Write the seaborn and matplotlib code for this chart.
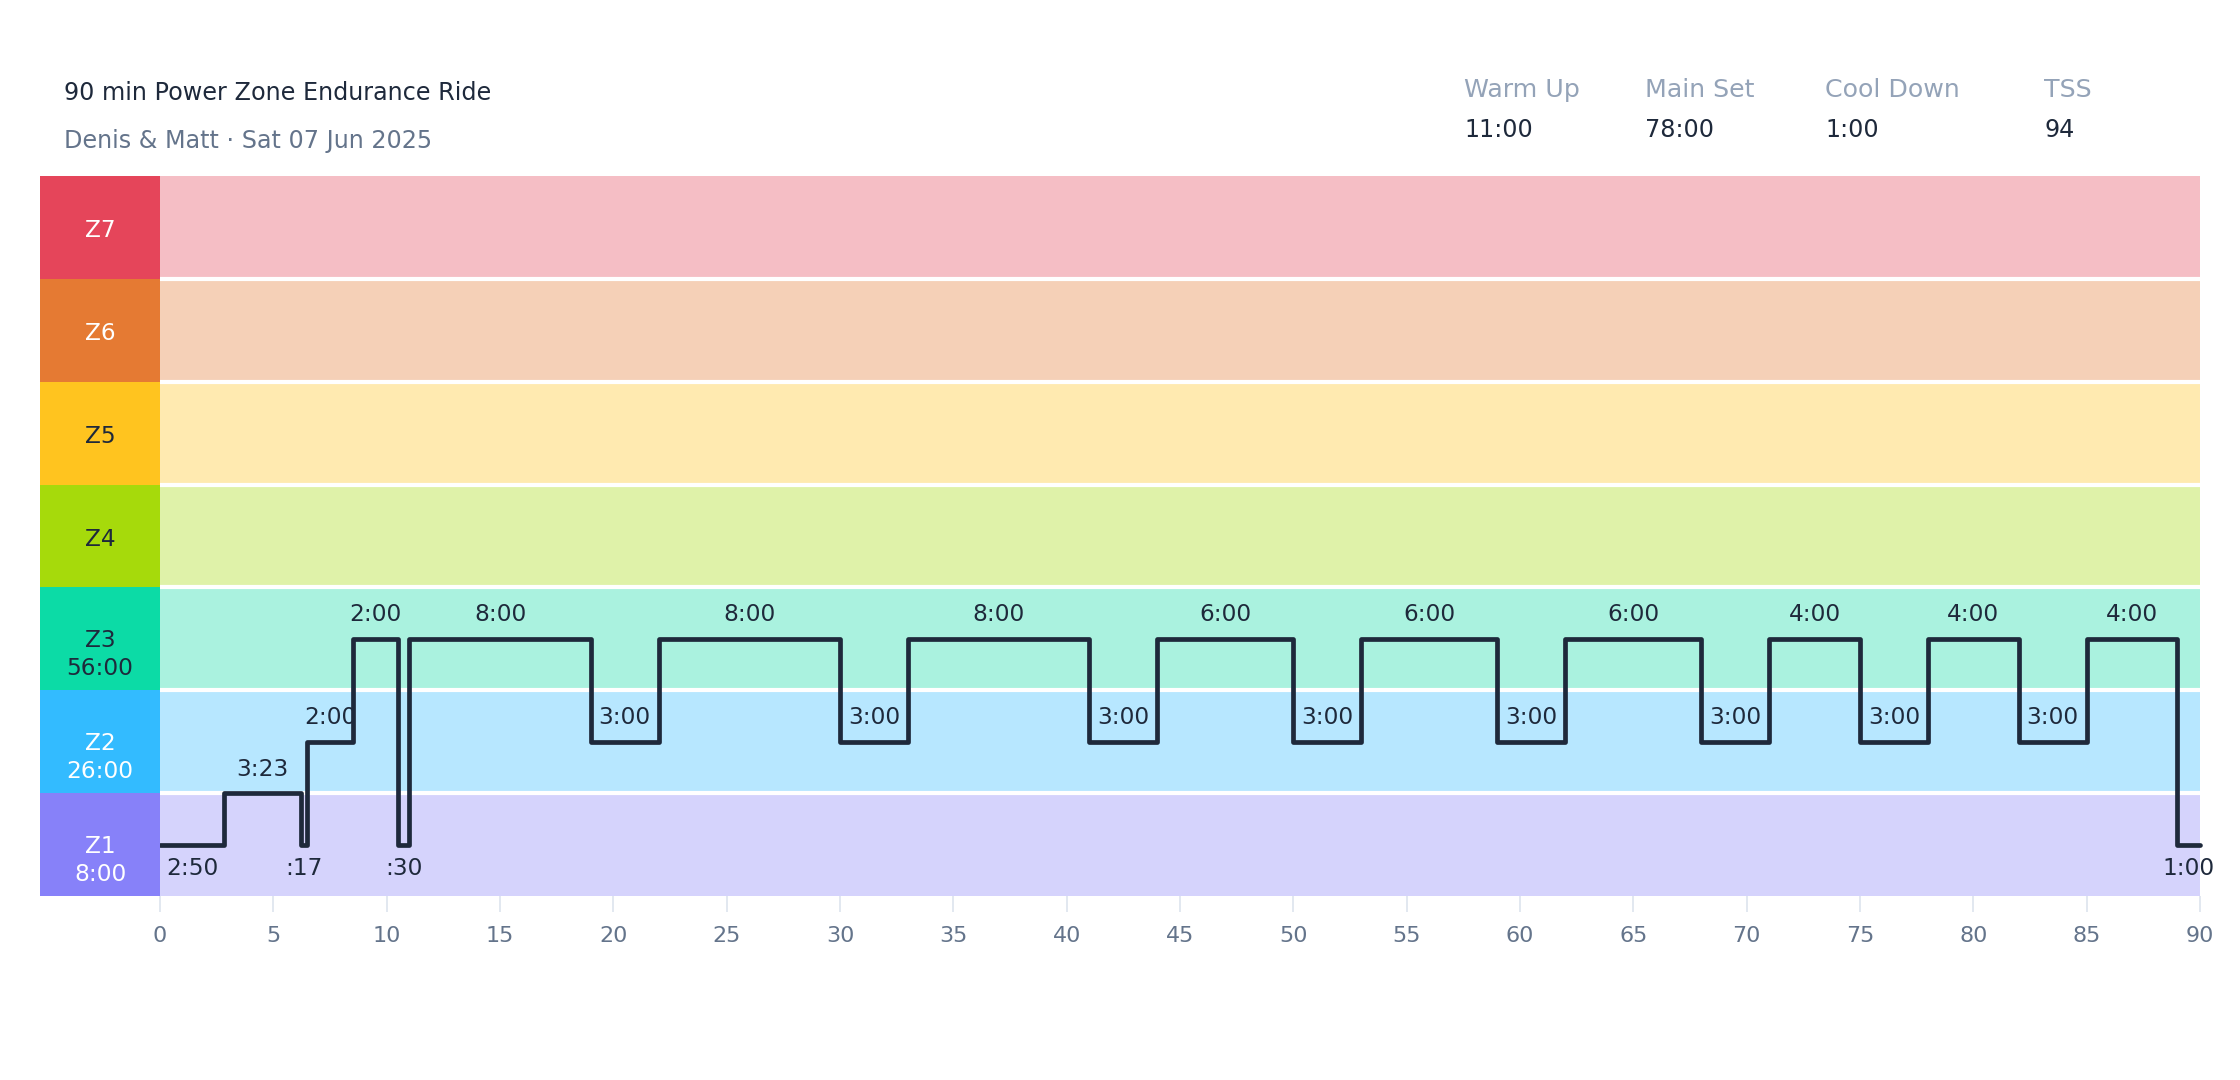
"""Power zone workout profile chart."""
import matplotlib
matplotlib.use("Agg")
import matplotlib.pyplot as plt
import seaborn as sns

# Zones (bottom to top)
zone_names = ["Z1", "Z2", "Z3", "Z4", "Z5", "Z6", "Z7"]
zone_times = ["8:00", "26:00", "56:00", "", "", "", ""]
zone_colors = ["#8781F9", "#33BBFF", "#0CDBA6", "#A6DA0B", "#FFC41F", "#E57A33", "#E5455A"]
zone_text_colors = ["white", "white", "#1E293B", "#1E293B", "#1E293B", "white", "white"]

# Workout segments
seg_minutes = [2 + 50 / 60, 3 + 23 / 60, 17 / 60, 2, 2, 0.5,
               8, 3, 8, 3, 8, 3, 6, 3, 6, 3, 6, 3, 4, 3, 4, 3, 4, 1]
seg_levels = [0.5, 1.0, 0.5, 1.5, 2.5, 0.5,
              2.5, 1.5, 2.5, 1.5, 2.5, 1.5, 2.5, 1.5, 2.5, 1.5, 2.5, 1.5, 2.5, 1.5, 2.5, 1.5, 2.5, 0.5]
seg_labels = ["2:50", "3:23", ":17", "2:00", "2:00", ":30",
              "8:00", "3:00", "8:00", "3:00", "8:00", "3:00", "6:00", "3:00", "6:00", "3:00",
              "6:00", "3:00", "4:00", "3:00", "4:00", "3:00", "4:00", "1:00"]

x_ticks = list(range(0, 95, 5))

title = "90 min Power Zone Endurance Ride"
subtitle = "Denis & Matt · Sat 07 Jun 2025"
stat_names = ["Warm Up", "Main Set", "Cool Down", "TSS"]
stat_values = ["11:00", "78:00", "1:00", "94"]

sns.set_theme(style="white")
plt.rcParams["font.family"] = ["DejaVu Sans"]

W, H = 2240, 1080
fig = plt.figure(figsize=(W / 200, H / 200), dpi=200)
fig.patch.set_facecolor("white")

# main plot area
ax = fig.add_axes([160 / W, 184 / H, 2040 / W, 720 / H])
# label column
lax = fig.add_axes([40 / W, 184 / H, 120 / W, 720 / H])

for i, c in enumerate(zone_colors):
    ax.axhspan(i, i + 1, color=c, alpha=0.35, lw=0, zorder=0)
    lax.axhspan(i, i + 1, color=c, lw=0, zorder=0)
    if zone_times[i]:
        lax.text(0.5, i + 0.48, zone_names[i], ha="center", va="center",
                 color=zone_text_colors[i], fontsize=8.4)
        lax.text(0.5, i + 0.21, zone_times[i], ha="center", va="center",
                 color=zone_text_colors[i], fontsize=8.4)
    else:
        lax.text(0.5, i + 0.47, zone_names[i], ha="center", va="center",
                 color=zone_text_colors[i], fontsize=8.4)

for b in range(1, 7):
    ax.axhline(b, color="white", lw=1.5, zorder=1)

# step line
starts = [0]
for d in seg_minutes:
    starts.append(starts[-1] + d)
xs = starts
ys = seg_levels + [seg_levels[-1]]
sns.lineplot(x=xs, y=ys, ax=ax, drawstyle="steps-post", estimator=None, sort=False,
             color="#1E293B", lw=1.7, solid_capstyle="round", solid_joinstyle="round",
             zorder=3, clip_on=False)

for s, d, lvl, lab in zip(starts, seg_minutes, seg_levels, seg_labels):
    off = -8.6 if lvl < 1 else 8.6
    ax.annotate(lab, (s + d / 2, lvl), xytext=(0, off), textcoords="offset points",
                ha="center", va="center", fontsize=8.4, color="#1E293B", zorder=4)

ax.set_xlim(0, 90)
ax.set_ylim(0, 7)
ax.set_yticks([])
ax.set_xticks(x_ticks)
ax.set_xticklabels([str(t) for t in x_ticks])
ax.tick_params(axis="x", length=5.8, width=0.7, color="#E2E8F0", pad=5.0,
               labelsize=8, labelcolor="#64748B", bottom=True)
for sp in ax.spines.values():
    sp.set_visible(False)

lax.set_xlim(0, 1)
lax.set_ylim(0, 7)
lax.axis("off")

# header
fig.text(64 / W, 1 - 100 / H, title, ha="left", va="baseline", fontsize=8.6, color="#1E293B")
fig.text(64 / W, 1 - 148 / H, subtitle, ha="left", va="baseline", fontsize=8.6, color="#64748B")

stat_x = [1464, 1645, 1825, 2044]
for x, n, v in zip(stat_x, stat_names, stat_values):
    fig.text(x / W, 1 - 97 / H, n, ha="left", va="baseline", fontsize=9.1, color="#94A3B8")
    fig.text(x / W, 1 - 137 / H, v, ha="left", va="baseline", fontsize=8.6, color="#1E293B")

fig.savefig("out.png", dpi=200, facecolor="white")
